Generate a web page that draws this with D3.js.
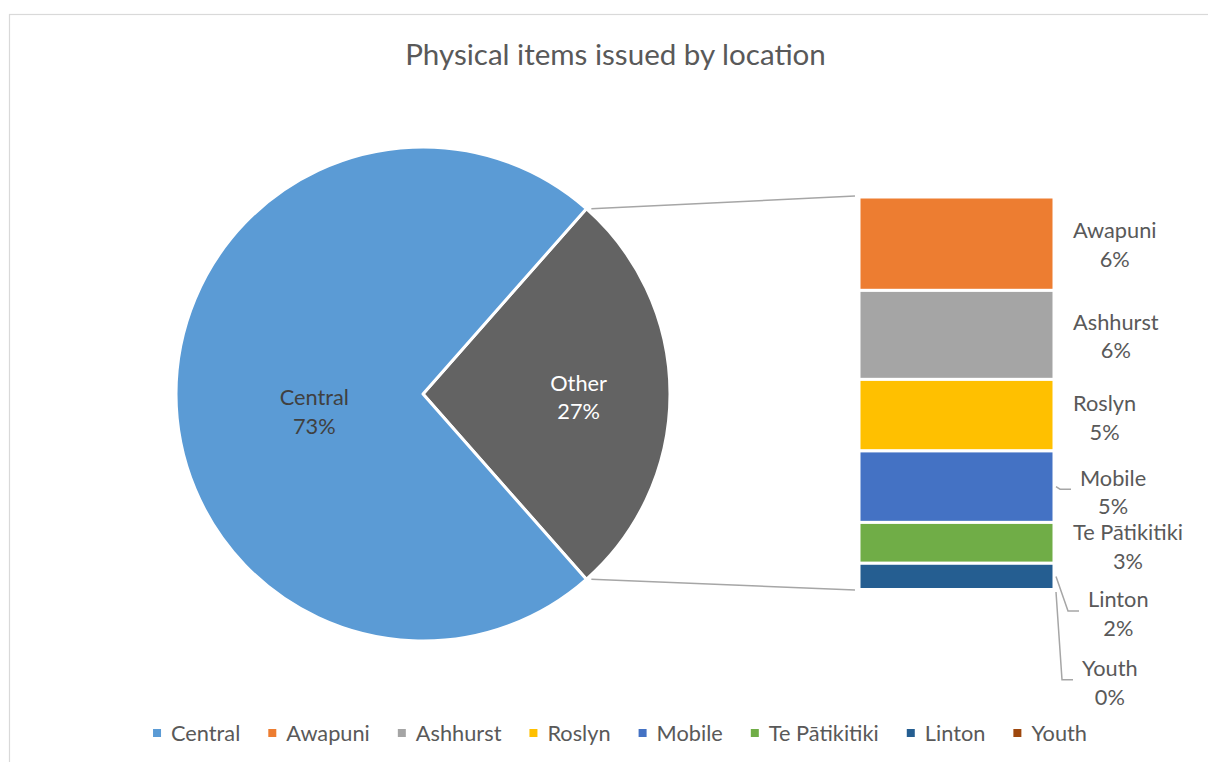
<!DOCTYPE html>
<html>
<head>
<meta charset="utf-8">
<script src="https://cdn.jsdelivr.net/npm/d3@7"></script>
<style>
  body { margin: 0; background: #fff; }
  text { font-family: Lato, "Liberation Sans", sans-serif; fill: #595959; }
</style>
</head>
<body>
<svg id="chart" width="1208" height="762"></svg>
<script>
// ---- data ----
const chartTitle = "Physical items issued by location";
const centralName = "Central";
const centralValue = 73.0;
const otherName = "Other";
const barCategories = ["Awapuni", "Ashhurst", "Roslyn", "Mobile", "Te Pātikitiki", "Linton", "Youth"];
const barValues = [6.4, 6.1, 4.9, 4.9, 2.8, 1.8, 0.1];
const legendCategories = [centralName, ...barCategories];

// ---- colours ----
const centralColor = "#5B9BD5";
const otherColor = "#636363";
const barColors = ["#ED7D31", "#A5A5A5", "#FFC000", "#4472C4", "#70AD47", "#255E91", "#9E480E"];
const legendColors = [centralColor, ...barColors];

// ---- layout ----
const W = 1208, H = 762;
const cx = 423, cy = 394, radius = 247;
const barX0 = 859, barX1 = 1054, barTop = 197, barBottom = 591;
const labelGap = 19;            // distance from bar edge to label box
const lineGap = 28.5;           // line spacing inside two-line labels
// label nudges applied by the overlap resolver: [dx, dy]
const barLabelNudge = [[0, 1], [0, 1.5], [0, 2.5], [7, 5.5], [0, 4], [15, 37.5], [9, 92.5]];
// pie label placement along the slice's mid-angle: [radius fraction, dy]
const pieLabelPlace = { Central: [0.44, 18], Other: [0.63, 3.5] };

const svg = d3.select("#chart");

// font sizes fitted to target text widths
function fitSize(str, targetWidth) {
  const probe = svg.append("text").attr("font-size", 100).text(str);
  const w = probe.node().getComputedTextLength();
  probe.remove();
  return 100 * targetWidth / w;
}
const titleSize = fitSize(chartTitle, 421);
const labelSize = fitSize("Te Pātikitiki", 110);

// chart frame
svg.append("rect")
  .attr("x", 9.5).attr("y", 14.5)
  .attr("width", W + 10).attr("height", H + 10)
  .attr("fill", "none").attr("stroke", "#D9D9D9").attr("stroke-width", 1.2);

// title
svg.append("text")
  .attr("x", 615.5).attr("y", 55)
  .attr("text-anchor", "middle").attr("dy", "0.35em")
  .attr("font-size", titleSize)
  .text(chartTitle);

const otherTotal = d3.sum(barValues);
const grandTotal = centralValue + otherTotal;
const pct = v => d3.format(".0f")(v / grandTotal * 100) + "%";

// ---- pie ----
const pieData = [
  { name: otherName, value: otherTotal, color: otherColor },
  { name: centralName, value: centralValue, color: centralColor }
];
const startA = Math.PI / 2 - Math.PI * otherTotal / grandTotal;
const pie = d3.pie().sort(null).value(d => d.value)
  .startAngle(startA).endAngle(startA + 2 * Math.PI);
const arcs = pie(pieData);
const arc = d3.arc().innerRadius(0).outerRadius(radius);

const pieG = svg.append("g").attr("transform", `translate(${cx},${cy})`);
pieG.selectAll("path").data(arcs).join("path")
  .attr("d", arc)
  .attr("fill", d => d.data.color)
  .attr("stroke", "#fff").attr("stroke-width", 3).attr("stroke-linejoin", "round");

pieG.selectAll("g.plabel").data(arcs).join("g").attr("class", "plabel")
  .each(function (d) {
    const a = (d.startAngle + d.endAngle) / 2;
    const [frac, dy] = pieLabelPlace[d.data.name];
    const rr = radius * frac;
    const x = rr * Math.sin(a), y = -rr * Math.cos(a) + dy;
    const g = d3.select(this);
    const fill = d.data.name === otherName ? "#FFFFFF" : "#404040";
    [d.data.name, pct(d.value)].forEach((t, i) => {
      g.append("text")
        .attr("x", x).attr("y", y + (i - 0.5) * lineGap)
        .attr("text-anchor", "middle").attr("dy", "0.35em")
        .attr("font-size", labelSize)
        .style("fill", fill)
        .text(t);
    });
  });

// ---- connector lines from the "Other" slice to the bar ----
const otherArc = arcs[0];
const edgePt = a => [cx + radius * Math.sin(a), cy - radius * Math.cos(a)];
const [ux, uy] = edgePt(otherArc.startAngle);
const [lx, ly] = edgePt(otherArc.endAngle);
svg.append("line").attr("x1", ux + 5).attr("y1", uy).attr("x2", barX0 - 4).attr("y2", barTop - 1)
  .attr("stroke", "#A6A6A6").attr("stroke-width", 1.5);
svg.append("line").attr("x1", lx + 5).attr("y1", ly).attr("x2", barX0 - 4).attr("y2", barBottom - 1)
  .attr("stroke", "#A6A6A6").attr("stroke-width", 1.5);

// ---- stacked bar ----
const yScale = d3.scaleLinear().domain([0, otherTotal]).range([barTop, barBottom]);
const stacked = [];
let acc = 0;
barValues.forEach((v, i) => {
  stacked.push({ name: barCategories[i], value: v, y0: acc, y1: acc + v, color: barColors[i], i });
  acc += v;
});

svg.append("g").selectAll("rect").data(stacked).join("rect")
  .attr("x", barX0).attr("width", barX1 - barX0)
  .attr("y", d => yScale(d.y0))
  .attr("height", d => yScale(d.y1) - yScale(d.y0))
  .attr("fill", d => d.color)
  .attr("stroke", "#fff").attr("stroke-width", 3);

// bar labels
const labG = svg.append("g");
stacked.forEach(d => {
  const [dx, dy] = barLabelNudge[d.i];
  const segMid = (yScale(d.y0) + yScale(d.y1)) / 2;
  const cyL = segMid + dy;
  const boxLeft = barX1 + labelGap + dx;
  const lines = [d.name, pct(d.value)];
  const probe = labG.append("text").attr("font-size", labelSize).text(d.name);
  const boxW = probe.node().getComputedTextLength();
  probe.remove();
  lines.forEach((t, k) => {
    labG.append("text")
      .attr("x", boxLeft + boxW / 2).attr("y", cyL + (k - 0.5) * lineGap)
      .attr("text-anchor", "middle").attr("dy", "0.35em")
      .attr("font-size", labelSize)
      .text(t);
  });
  if (dx > 0) {
    const sx = barX1 + 2, sy = Math.min(segMid, yScale(d.y1) - 2) + (d.value < 0.5 ? 3 : 0);
    const ex = boxLeft - 9, ey = cyL - 3;
    const bend = ex - 11;
    labG.append("path")
      .attr("d", `M${sx},${sy}L${bend},${ey}L${ex},${ey}`)
      .attr("fill", "none").attr("stroke", "#A6A6A6").attr("stroke-width", 1.5);
  }
});

// ---- legend ----
const legendY = 733, markerSize = 8, markerGap = 10, itemGap = 28;
const legendG = svg.append("g");
const widths = legendCategories.map(t => {
  const p = legendG.append("text").attr("font-size", labelSize).text(t);
  const w = p.node().getComputedTextLength();
  p.remove();
  return w;
});
const itemW = widths.map(w => markerSize + markerGap + w);
const totalW = d3.sum(itemW) + itemGap * (itemW.length - 1);
let lx0 = 620 - totalW / 2;
legendCategories.forEach((t, i) => {
  legendG.append("rect")
    .attr("x", lx0).attr("y", legendY - markerSize / 2)
    .attr("width", markerSize).attr("height", markerSize)
    .attr("fill", legendColors[i]);
  legendG.append("text")
    .attr("x", lx0 + markerSize + markerGap).attr("y", legendY)
    .attr("dy", "0.35em").attr("font-size", labelSize)
    .text(t);
  lx0 += itemW[i] + itemGap;
});
</script>
</body>
</html>
